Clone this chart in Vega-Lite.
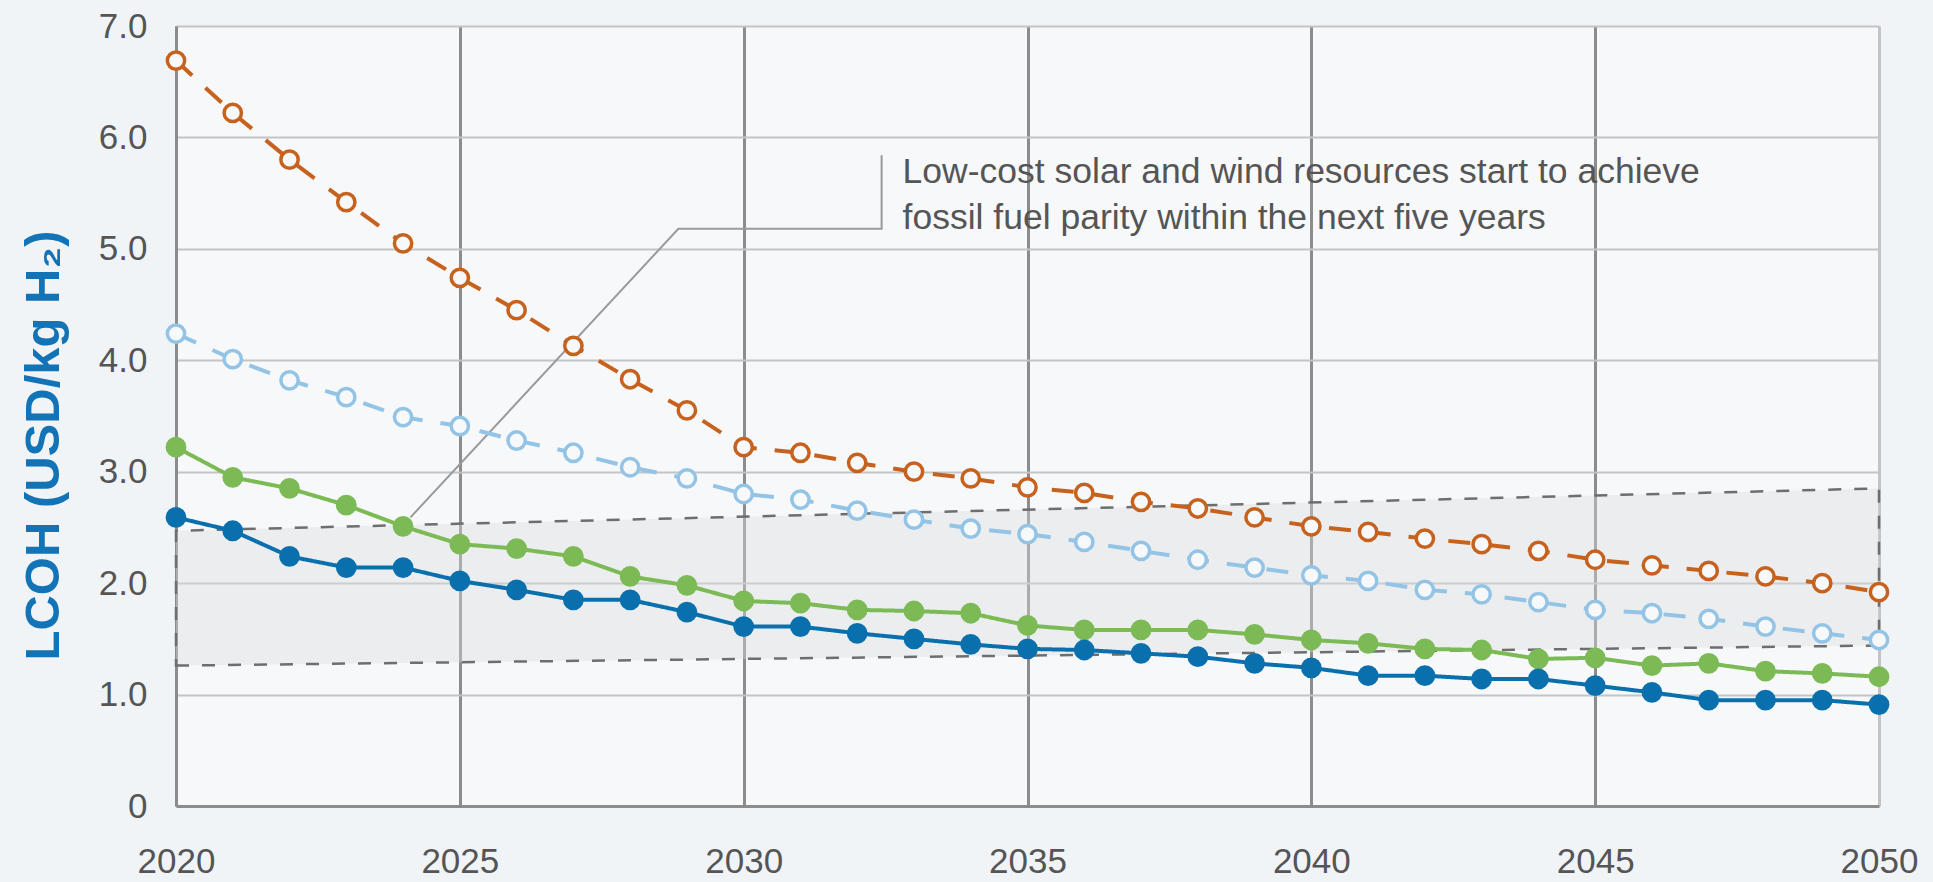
{
  "$schema": "https://vega.github.io/schema/vega-lite/v6.json",
  "width": 1703,
  "height": 780,
  "autosize": "none",
  "padding": {"left": 176, "top": 26, "right": 54, "bottom": 76},
  "background": "#f1f4f7",
  "config": {"view": {"stroke": null, "fill": "#f7f8fa"}},
  "datasets": {
    "lcoh": [
      {"year": 2020, "High": 6.69, "Mid": 4.24, "LowB": 3.22, "LowA": 2.59},
      {"year": 2021, "High": 6.22, "Mid": 4.01, "LowB": 2.95, "LowA": 2.47},
      {"year": 2022, "High": 5.80, "Mid": 3.82, "LowB": 2.85, "LowA": 2.24},
      {"year": 2023, "High": 5.42, "Mid": 3.67, "LowB": 2.70, "LowA": 2.14},
      {"year": 2024, "High": 5.05, "Mid": 3.49, "LowB": 2.51, "LowA": 2.14},
      {"year": 2025, "High": 4.74, "Mid": 3.41, "LowB": 2.35, "LowA": 2.02},
      {"year": 2026, "High": 4.45, "Mid": 3.28, "LowB": 2.31, "LowA": 1.94},
      {"year": 2027, "High": 4.13, "Mid": 3.17, "LowB": 2.24, "LowA": 1.85},
      {"year": 2028, "High": 3.83, "Mid": 3.04, "LowB": 2.06, "LowA": 1.85},
      {"year": 2029, "High": 3.55, "Mid": 2.94, "LowB": 1.98, "LowA": 1.74},
      {"year": 2030, "High": 3.22, "Mid": 2.80, "LowB": 1.84, "LowA": 1.61},
      {"year": 2031, "High": 3.17, "Mid": 2.75, "LowB": 1.82, "LowA": 1.61},
      {"year": 2032, "High": 3.08, "Mid": 2.65, "LowB": 1.76, "LowA": 1.55},
      {"year": 2033, "High": 3.00, "Mid": 2.57, "LowB": 1.75, "LowA": 1.50},
      {"year": 2034, "High": 2.94, "Mid": 2.49, "LowB": 1.73, "LowA": 1.45},
      {"year": 2035, "High": 2.86, "Mid": 2.44, "LowB": 1.62, "LowA": 1.41},
      {"year": 2036, "High": 2.81, "Mid": 2.37, "LowB": 1.58, "LowA": 1.40},
      {"year": 2037, "High": 2.73, "Mid": 2.29, "LowB": 1.58, "LowA": 1.37},
      {"year": 2038, "High": 2.67, "Mid": 2.21, "LowB": 1.58, "LowA": 1.34},
      {"year": 2039, "High": 2.59, "Mid": 2.14, "LowB": 1.54, "LowA": 1.28},
      {"year": 2040, "High": 2.51, "Mid": 2.07, "LowB": 1.49, "LowA": 1.24},
      {"year": 2041, "High": 2.46, "Mid": 2.02, "LowB": 1.46, "LowA": 1.17},
      {"year": 2042, "High": 2.40, "Mid": 1.94, "LowB": 1.41, "LowA": 1.17},
      {"year": 2043, "High": 2.35, "Mid": 1.90, "LowB": 1.40, "LowA": 1.14},
      {"year": 2044, "High": 2.29, "Mid": 1.83, "LowB": 1.32, "LowA": 1.14},
      {"year": 2045, "High": 2.21, "Mid": 1.76, "LowB": 1.33, "LowA": 1.08},
      {"year": 2046, "High": 2.16, "Mid": 1.73, "LowB": 1.26, "LowA": 1.02},
      {"year": 2047, "High": 2.11, "Mid": 1.68, "LowB": 1.28, "LowA": 0.95},
      {"year": 2048, "High": 2.06, "Mid": 1.61, "LowB": 1.21, "LowA": 0.95},
      {"year": 2049, "High": 2.00, "Mid": 1.55, "LowB": 1.19, "LowA": 0.95},
      {"year": 2050, "High": 1.92, "Mid": 1.49, "LowB": 1.16, "LowA": 0.91}
    ],
    "band": [
      {"year": 2020, "value": 1.26, "value2": 2.47},
      {"year": 2050, "value": 1.44, "value2": 2.85}
    ],
    "leader": [
      {"year": 2024.13, "value": 2.59, "o": 1},
      {"year": 2028.85, "value": 5.18, "o": 2},
      {"year": 2032.43, "value": 5.18, "o": 3},
      {"year": 2032.43, "value": 5.84, "o": 4}
    ],
    "note": [
      {"year": 2032.8, "value": 5.59}
    ]
  },
  "encoding": {
    "x": {
      "field": "year",
      "type": "quantitative",
      "scale": {"domain": [2020, 2050], "nice": false, "zero": false},
      "axis": {
        "values": [2020, 2025, 2030, 2035, 2040, 2045, 2050],
        "format": "d",
        "labelFont": "Liberation Sans",
        "labelFontSize": 35,
        "labelColor": "#555555",
        "labelPadding": 38,
        "labelFlush": false,
        "labelOverlap": false,
        "ticks": false,
        "tickSize": 0,
        "domainColor": "#8c8c8c",
        "domainWidth": 3,
        "grid": true,
        "gridColor": {"condition": {"test": "datum.value == 2050", "value": "#c4c4c4"}, "value": "#8c8c8c"},
        "gridWidth": 3,
        "title": null
      }
    },
    "y": {
      "field": "value",
      "type": "quantitative",
      "scale": {"domain": [0, 7], "nice": false},
      "axis": {
        "values": [0, 1, 2, 3, 4, 5, 6, 7],
        "labelExpr": "datum.value == 0 ? '0' : format(datum.value, '.1f')",
        "labelFont": "Liberation Sans",
        "labelFontSize": 35,
        "labelColor": "#555555",
        "labelPadding": 29,
        "ticks": false,
        "tickSize": 0,
        "domainColor": "#8c8c8c",
        "domainWidth": 3,
        "grid": true,
        "gridColor": "#c4c4c4",
        "gridWidth": 2,
        "title": "LCOH (USD/kg H₂)",
        "titleFont": "Liberation Sans",
        "titleFontSize": 49,
        "titleFontWeight": "bold",
        "titleColor": "#1273b6",
        "titleAngle": -90,
        "titleX": -133,
        "titleY": 419,
        "titleAlign": "center",
        "titleBaseline": "middle"
      }
    }
  },
  "layer": [
    {
      "data": {"name": "band"},
      "mark": {"type": "area", "fill": "#dcdcdc", "fillOpacity": 0.4, "stroke": "#6e6e6e", "strokeWidth": 2.5, "strokeDash": [13, 13]},
      "encoding": {"y2": {"field": "value2"}}
    },
    {
      "data": {"name": "leader"},
      "mark": {"type": "line", "color": "#9a9a9a", "strokeWidth": 2},
      "encoding": {"order": {"field": "o", "type": "quantitative"}}
    },
    {
      "data": {"name": "note"},
      "mark": {
        "type": "text",
        "text": ["Low-cost solar and wind resources start to achieve", "fossil fuel parity within the next five years"],
        "align": "left",
        "baseline": "alphabetic",
        "font": "Liberation Sans",
        "fontSize": 35.5,
        "lineHeight": 46,
        "color": "#555555"
      }
    },
    {
      "data": {"name": "lcoh"},
      "transform": [{"fold": ["High", "Mid", "LowB", "LowA"], "as": ["series", "value"]}],
      "mark": {"type": "line", "strokeWidth": 4},
      "encoding": {
        "color": {"field": "series", "type": "nominal", "scale": {"domain": ["High", "Mid", "LowB", "LowA"], "range": ["#c6621d", "#93c4e6", "#7cba55", "#0a70ad"]}, "legend": null},
        "strokeDash": {"field": "series", "type": "nominal", "scale": {"domain": ["High", "Mid", "LowB", "LowA"], "range": [[22, 18], [22, 18], [1, 0], [1, 0]]}, "legend": null}
      }
    },
    {
      "data": {"name": "lcoh"},
      "transform": [{"fold": ["High", "Mid", "LowB", "LowA"], "as": ["series", "value"]}],
      "mark": {"type": "point", "shape": "circle", "strokeWidth": 3.5, "opacity": 1, "fillOpacity": 1},
      "encoding": {
        "size": {"field": "series", "type": "nominal", "scale": {"domain": ["High", "Mid", "LowB", "LowA"], "range": [300, 300, 400, 400]}, "legend": null},
        "stroke": {"field": "series", "type": "nominal", "scale": {"domain": ["High", "Mid", "LowB", "LowA"], "range": ["#c6621d", "#93c4e6", "#7cba55", "#0a70ad"]}, "legend": null},
        "fill": {"field": "series", "type": "nominal", "scale": {"domain": ["High", "Mid", "LowB", "LowA"], "range": ["#f7f8fa", "#f7f8fa", "#7cba55", "#0a70ad"]}, "legend": null}
      }
    }
  ]
}
